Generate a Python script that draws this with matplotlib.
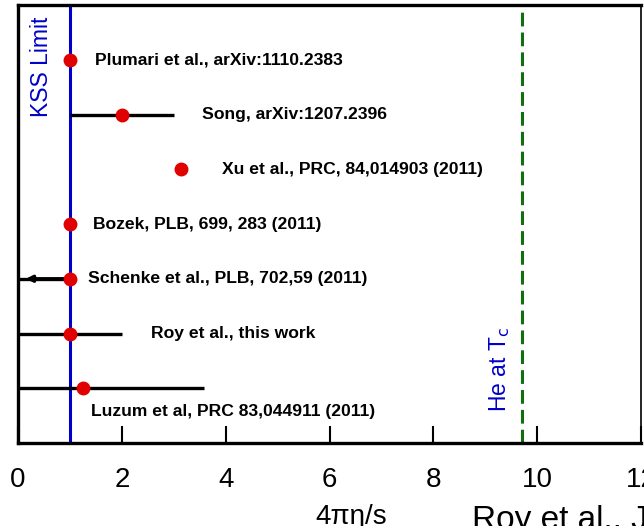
import matplotlib
matplotlib.use("Agg")
import matplotlib.pyplot as plt

plt.rcParams['font.family'] = ['Liberation Sans', 'DejaVu Sans']

# 4*pi*eta/s estimates, top to bottom
refs = ["Plumari et al., arXiv:1110.2383",
        "Song, arXiv:1207.2396",
        "Xu et al., PRC, 84,014903 (2011)",
        "Bozek, PLB, 699, 283 (2011)",
        "Schenke et al., PLB, 702,59 (2011)",
        "Roy et al., this work",
        "Luzum et al, PRC 83,044911 (2011)"]
rows = [7, 6, 5, 4, 3, 2, 1]
values = [1.0, 2.0, 3.14, 1.0, 1.0, 1.0, 1.25]
err_lo = [0.0, 1.0, 0.0, 0.0, 0.0, 1.0, 1.25]
err_hi = [0.0, 1.0, 0.0, 0.0, 0.0, 1.0, 2.33]
schenke_arrow_to = 0.15   # upper limit only, drawn as an arrow

kss = 1.0
helium_tc = 9.7

# label placement (x, y offset from the row)
label_x = [1.49, 3.55, 3.93, 1.44, 1.35, 2.56, 1.41]
label_dy = [0, 0, 0, 0, 0, 0, -0.42]

fig = plt.figure(figsize=(6.44, 5.26), dpi=100)
ax = fig.add_axes([18 / 644, 83 / 526, 623 / 644, 438 / 526])

ax.axvline(kss, color='#0000c8', lw=2.2, zorder=2)
ax.axvline(helium_tc, color='#107010', lw=2.2, ls=(0, (4.5, 2)), zorder=2)

for i in range(len(refs)):
    if err_lo[i] > 0 or err_hi[i] > 0:
        ax.errorbar(values[i], rows[i], xerr=[[err_lo[i]], [err_hi[i]]],
                    fmt='none', ecolor='black', elinewidth=2.4, capsize=0, zorder=3)

# Schenke: left-pointing arrow down to zero viscosity
ax.plot([0, values[4]], [rows[4], rows[4]], color='black', lw=2.4, zorder=3)
ax.annotate('', xy=(schenke_arrow_to, rows[4]), xytext=(values[4], rows[4]),
            arrowprops=dict(arrowstyle='-|>', color='black', lw=2.4,
                            mutation_scale=9, shrinkA=0, shrinkB=0), zorder=3)

ax.plot(values, rows, 'o', color='#e00000', ms=9, mec='#e00000', zorder=4)

for i, name in enumerate(refs):
    ax.text(label_x[i], rows[i] + label_dy[i], name, fontsize=12.6,
            fontweight='bold', va='center', ha='left')

ax.text(0.46, 6.87, 'KSS Limit', rotation=90, color='#0000c8', fontsize=16.5,
        ha='center', va='center')
ax.text(9.28, 1.35, r'He at T$_\mathrm{c}$', rotation=90, color='#0000c8',
        fontsize=16.5, ha='center', va='center')

ax.set_xlim(0, 12)
ax.set_ylim(0, 8)
ax.set_xticks([0, 2, 4, 6, 8, 10, 12])
ax.set_yticks([])
ax.tick_params(axis='x', direction='in', length=12, width=1.5, labelsize=20, pad=17)
for side in ['left', 'bottom', 'top']:
    ax.spines[side].set_linewidth(2.4)
ax.spines['right'].set_linewidth(1.2)

ax.set_xlabel('4πη/s', fontsize=20)
ax.xaxis.set_label_coords((351 - 18) / 623, -0.14)

fig.text(472 / 644, 21 / 526, 'Roy et al., J. Phys. G', fontsize=24,
         ha='left', va='top')

fig.savefig('out.png', dpi=100)
